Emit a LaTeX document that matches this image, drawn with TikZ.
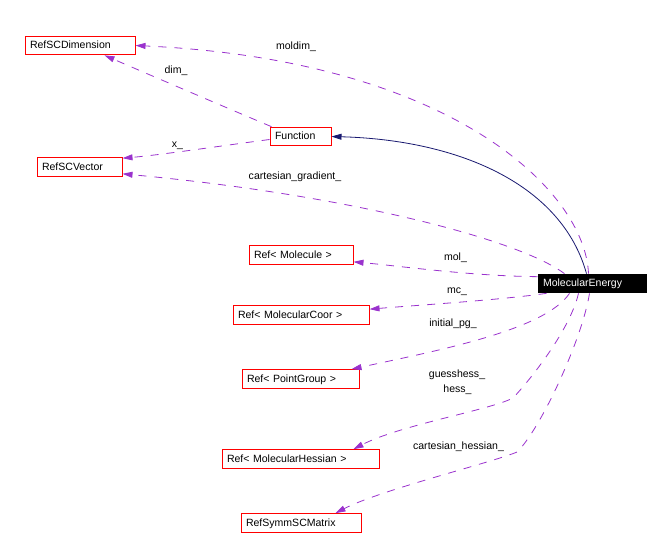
\documentclass[tikz,border=0pt]{standalone}
\usepackage{fontspec}
\setmainfont{Liberation Sans}
\usetikzlibrary{arrows.meta,calc}
\definecolor{edgepurple}{HTML}{9A32CD}
\definecolor{edgenavy}{HTML}{191970}
\begin{document}
\begin{tikzpicture}[x=0.75pt,y=-0.75pt,
  font=\fontsize{7.9pt}{9pt}\selectfont,
  cls/.style={draw=red, line width=0.75pt, inner xsep=3.75pt, inner ysep=0pt,
    minimum height=14pt, text height=5.6pt, text depth=0.6pt, align=left},
  cur/.style={cls, draw=black, fill=black, text=white},
  dep/.style={draw=edgepurple, line width=0.6pt, dash pattern=on 6pt off 6pt,
    -{Triangle[length=7.5pt,width=4.5pt]}},
  inh/.style={draw=edgenavy, line width=0.6pt,
    -{Triangle[length=7.5pt,width=4.5pt]}},
  lbl/.style={anchor=base, inner sep=0pt}]
\useasboundingbox (0,0) rectangle (670,550);

% nodes
\node[cls, text width=75pt]    (dim) at (80,45.5)   {RefSCDimension};
\node[cls, text width=38.25pt] (fn)  at (300.5,136.5) {Function};
\node[cls, text width=56.25pt] (vec) at (79.5,167)  {RefSCVector};
\node[cur, text width=73.5pt]  (me)  at (592,283.5) {MolecularEnergy};
\node[cls, text width=70.5pt]  (mol) at (301,255)   {Ref< Molecule >};
\node[cls, text width=94.5pt]  (mc)  at (301,315)   {Ref< MolecularCoor >};
\node[cls, text width=80.25pt] (pg)  at (300.5,379) {Ref< PointGroup >};
\node[cls, text width=110.25pt](mh)  at (300.5,459) {Ref< MolecularHessian >};
\node[cls, text width=82.5pt]  (sm)  at (301,523)   {RefSymmSCMatrix};

% connectors
\draw[inh] ($(me.north west)+(49,0)$) .. controls (562,185) and (460,140) .. (fn.east);
\draw[dep] ($(me.north west)+(51,0)$) .. controls (585,190) and (450,60) .. (dim.east);
\draw[dep] ($(fn.north west)+(2,0)$) .. controls (220,105) and (150,75) .. ($(dim.south west)+(80,0)$);
\draw[dep] ($(fn.west)+(0,3)$) .. controls (220,146) and (160,155) .. ($(vec.north east)+(0,1)$);
\draw[dep] ($(me.north west)+(27,0)$) .. controls (520,240) and (350,195) .. ($(vec.south east)+(0,-3)$);
\draw[dep] ($(me.north west)+(0,3)$) .. controls (470,276) and (400,266) .. ($(mol.south east)+(0,-3)$);
\draw[dep] ($(me.south west)+(9,0)$) .. controls (500,300) and (420,305) .. ($(mc.north east)+(0,4)$);
\draw[dep] ($(me.south west)+(32,0)$) .. controls (545,330) and (440,350) .. ($(pg.north east)+(-8,0)$);
\draw[dep] ($(me.south west)+(41,0)$) .. controls (570,330) and (530,380) .. (513,398)
   .. controls (490,410) and (400,425) .. ($(mh.north east)+(-26,0)$);
\draw[dep] ($(me.south west)+(52,0)$) .. controls (582,340) and (540,430) .. (517,452)
   .. controls (494,462) and (380,490) .. ($(sm.north east)+(-26,0)$);

% labels
\node[lbl] (lmoldim) at (296,49)  {moldim\_};
\node[lbl] (ldim)    at (176,73)  {dim\_};
\node[lbl] (lx)      at (177.5,147) {x\_};
\node[lbl] (lcg)     at (295,179) {cartesian\_gradient\_};
\node[lbl] (lmol)    at (455.5,260.5) {mol\_};
\node[lbl] (lmc)     at (457,293) {mc\_};
\node[lbl] (lpg)     at (453,326) {initial\_pg\_};
\node[lbl] (lgh)     at (457,377) {guesshess\_};
\node[lbl] (lh)      at (457.5,392) {hess\_};
\node[lbl] (lch)     at (458.5,449) {cartesian\_hessian\_};
\end{tikzpicture}
\end{document}
